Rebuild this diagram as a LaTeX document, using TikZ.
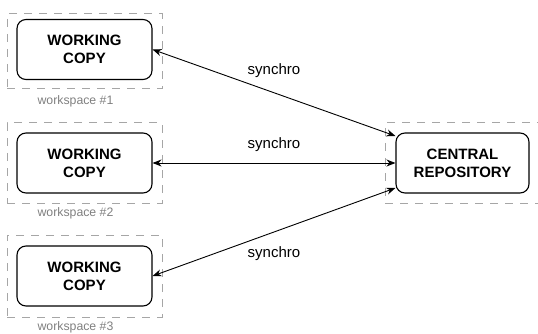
\documentclass[tikz,border=0pt]{standalone}
\usepackage{fontspec}
\setmainfont{Liberation Sans}
\usetikzlibrary{arrows.meta}
\begin{document}
\begin{tikzpicture}[
		x=1pt, y=-1pt,
		wsbox/.style={draw=gray!70, dash pattern=on 8pt off 7pt, line width=1pt, minimum width=155pt, inner sep=0pt},
		wcbox/.style={draw, fill=white, rounded corners=9pt, line width=1.1pt, minimum width=135pt, minimum height=60pt, align=center, font=\fontsize{15}{18.3}\selectfont\bfseries},
		wslabel/.style={text=gray, inner sep=0pt, font=\fontsize{12.3}{14}\selectfont},
		elabel/.style={inner sep=0pt, font=\fontsize{15}{18}\selectfont},
		sync/.style={{Stealth[length=9pt,width=7pt]}-{Stealth[length=9pt,width=7pt]}, line width=0.9pt},
	]
	\useasboundingbox (0,0) rectangle (538,334);

	\node[wsbox, minimum height=75pt] (ws1) at (84.5, 51.5) {};
	\node[wsbox, minimum height=80pt] (ws2) at (84.5, 163)  {};
	\node[wsbox, minimum height=82pt] (ws3) at (84.5, 276)  {};
	\node[wsbox, minimum width=160pt, minimum height=80pt] (wsr) at (465, 163) {};

	\node[wcbox] (wc1) at (84.5, 49.5) {WORKING\\COPY};
	\node[wcbox] (wc2) at (84.5, 163)  {WORKING\\COPY};
	\node[wcbox] (wc3) at (84.5, 276)  {WORKING\\COPY};
	\node[wcbox, minimum width=133pt] (repo) at (462.5, 163) {CENTRAL\\REPOSITORY};

	\node[wslabel] (l1) at (75.5, 101) {workspace \#1};
	\node[wslabel] (l2) at (75.5, 213) {workspace \#2};
	\node[wslabel] (l3) at (75.5, 327) {workspace \#3};

	% synchronisation with the repository
	\draw[sync] (wc1.east) -- node[elabel, above=15pt] {synchro} ([yshift=27pt]repo.west);
	\draw[sync] (wc2.east) -- node[elabel, above=11pt] {synchro} (repo.west);
	\draw[sync] (wc3.east) -- node[elabel, below=14pt] {synchro} ([yshift=-25pt]repo.west);
\end{tikzpicture}
\end{document}
